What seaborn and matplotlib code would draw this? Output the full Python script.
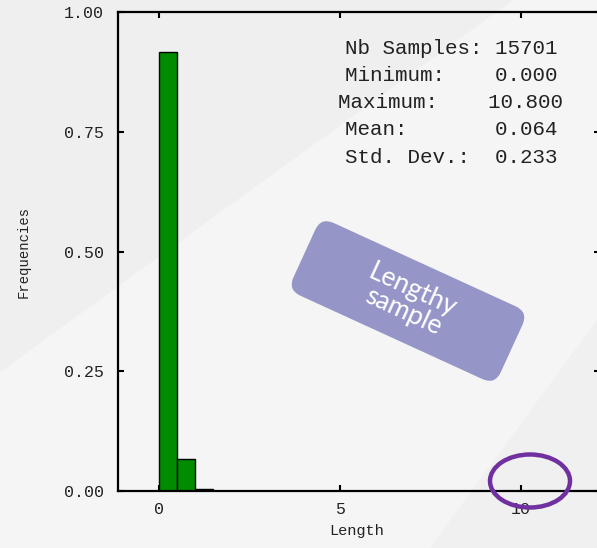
import numpy as np
import pandas as pd
import matplotlib
matplotlib.use("Agg")
import matplotlib.pyplot as plt
import matplotlib.transforms as mtransforms
from matplotlib.patches import FancyBboxPatch, Ellipse, Polygon
import seaborn as sns

# ---- data ----
bin_edges = [0.0, 0.5, 1.0, 1.5]
frequencies = [0.917, 0.066, 0.005]
x_ticks = [0, 5, 10]
y_ticks = [0.0, 0.25, 0.5, 0.75, 1.0]
y_tick_labels = ["0.00", "0.25", "0.50", "0.75", "1.00"]
stat_lines = ["Nb Samples: 15701", "Minimum:    0.000", "Maximum:    10.800",
              "Mean:       0.064", "Std. Dev.:  0.233"]
x_label = "Length"
y_label = "Frequencies"
note_text = "Lengthy\nsample"

sns.set_style("ticks")
plt.rcParams["font.family"] = ["Liberation Mono", "DejaVu Sans Mono"]

W, H = 597, 548
fig = plt.figure(figsize=(W / 100, H / 100), dpi=100)
fig.patch.set_facecolor("#f5f5f5")

pix = mtransforms.Affine2D().scale(1 / W, 1 / H) + fig.transFigure

def P(x, y):
    return (x, H - y)

# background shapes
fig.patches.append(Polygon([P(0, 0), P(0, 372), P(513, 0)], closed=True,
                           transform=pix, facecolor="#efefef", edgecolor="none", zorder=-2))
fig.patches.append(Polygon([P(430, 548), P(597, 320), P(597, 548)], closed=True,
                           transform=pix, facecolor="#f0f0f0", edgecolor="none", zorder=-2))

# axes geometry (pixels)
ax_left, ax_right, ax_top, ax_bottom = 118, 600, 12, 491
x0_px, px_per_unit = 159, 36.2
ax = fig.add_axes([ax_left / W, (H - ax_bottom) / H, (ax_right - ax_left) / W, (ax_bottom - ax_top) / H])
ax.set_zorder(1)
ax.patch.set_alpha(0)

centers = [(bin_edges[i] + bin_edges[i + 1]) / 2 for i in range(len(frequencies))]
df = pd.DataFrame({"Length": centers, "freq": frequencies})
sns.histplot(data=df, x="Length", weights="freq", bins=bin_edges, ax=ax,
             color="#008c00", edgecolor="black", linewidth=1.0, alpha=1.0)

ax.set_xlim((ax_left - x0_px) / px_per_unit, (ax_right - x0_px) / px_per_unit)
ax.set_ylim(0, 1.0)
ax.set_xticks(x_ticks)
ax.set_yticks(y_ticks)
ax.set_yticklabels(y_tick_labels)
ax.tick_params(direction="in", length=4.5, width=1.5, labelsize=12, colors="black",
               labelcolor="#222222", top=True, right=True, pad=10)
ax.tick_params(axis="x", pad=8)
for s in ["left", "bottom", "top", "right"]:
    ax.spines[s].set_visible(True)
    ax.spines[s].set_linewidth(1.6)
    ax.spines[s].set_color("black")
ax.set_xlabel(x_label, fontsize=11, color="#222222")
ax.set_ylabel(y_label, fontsize=10, color="#222222")
ax.yaxis.set_label_coords((31 - ax_left) / (ax_right - ax_left), 0.5)
ax.xaxis.set_label_coords((357 - ax_left) / (ax_right - ax_left), (ax_bottom - 524) / (ax_bottom - ax_top))

# stats text
for i, line in enumerate(stat_lines):
    fig.text(451 / W, 1 - (48 + 27.3 * i) / H, line, ha="center", va="center",
             fontsize=15, color="#222222", family=["Liberation Mono", "DejaVu Sans Mono"],
             zorder=3)

# rotated rounded note box
cx, cy = 408, 301
bw, bh, r = 228, 80, 14
rot = mtransforms.Affine2D().rotate_deg_around(cx, H - cy, -24.6)
box = FancyBboxPatch((cx - bw / 2 + r, H - cy - bh / 2 + r), bw - 2 * r, bh - 2 * r,
                     boxstyle=f"round,pad={r}", facecolor="#9595c8", edgecolor="none",
                     transform=rot + pix, zorder=5)
fig.patches.append(box)
fig.text(cx / W, 1 - cy / H, note_text, ha="center", va="center", rotation=-24.6,
         rotation_mode="anchor", fontsize=19, color="white", linespacing=0.9,
         family=["Lato", "DejaVu Sans"], zorder=6)

# purple ellipse
fig.patches.append(Ellipse(P(530, 481), 80, 53, transform=pix, facecolor="none",
                           edgecolor="#7030a0", linewidth=3.2, zorder=7))

fig.savefig("out.png", dpi=100, facecolor=fig.get_facecolor())
